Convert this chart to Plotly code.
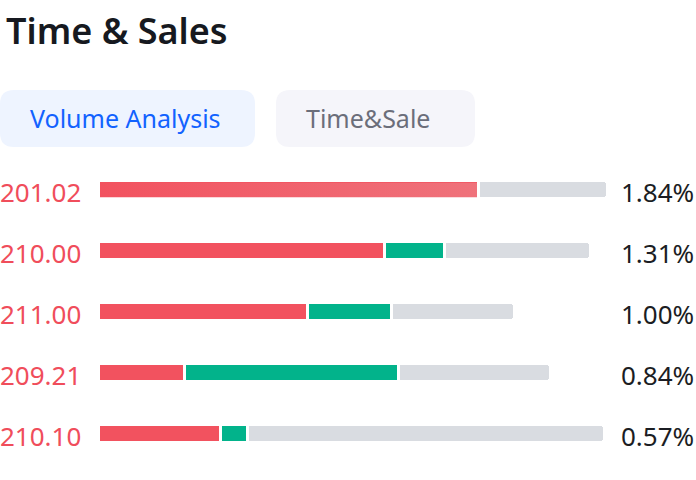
import plotly.graph_objects as go

# ---- data ----
prices = ["201.02", "210.00", "211.00", "209.21", "210.10"]
percents = ["1.84%", "1.31%", "1.00%", "0.84%", "0.57%"]
red_vol = [380, 286, 209, 86, 122]
green_vol = [0, 60, 84, 214, 27]
gray_vol = [129, 146, 123, 152, 357]
title_text = "Time & Sales"
tabs = ["Volume Analysis", "Time&Sale"]

# ---- style ----
W, H = 696, 480
ROW_PX = 61
FIRST_ROW_PX = 190
BAR_PX = 17.5
GAP = 3
RED = "#f2525f"
RED_GRAD = ["#f2525f", "#ef727b"]
GREEN = "#02b38b"
GRAY = "#d9dce1"
FONT = "Noto Sans"

span = H / ROW_PX
y_top = -FIRST_ROW_PX / ROW_PX
y_range = [y_top + span, y_top]
x0_px = 98.5
x_range = [-x0_px, W - x0_px]
bw = BAR_PX / ROW_PX
rows = list(range(len(prices)))

fig = go.Figure()
line = dict(color="white", width=GAP)
fig.add_trace(go.Bar(y=rows, x=red_vol, orientation="h", width=bw,
                     marker=dict(color=RED, line=line), hoverinfo="skip"))
fig.add_trace(go.Bar(y=rows, x=green_vol, orientation="h", width=bw,
                     marker=dict(color=GREEN, line=line), hoverinfo="skip"))
fig.add_trace(go.Bar(y=rows, x=gray_vol, orientation="h", width=bw,
                     marker=dict(color=GRAY, line=line), hoverinfo="skip"))

# gradient overlay for the top row's red segment
inset_x = GAP / 2
inset_y = (GAP / 2) / ROW_PX
hy = bw / 2 - inset_y
r0 = rows[0]
gx = [inset_x, red_vol[0] - inset_x, red_vol[0] - inset_x, inset_x, inset_x]
gy = [r0 - hy, r0 - hy, r0 + hy, r0 + hy, r0 - hy]
fig.add_trace(go.Scatter(x=gx, y=gy, mode="lines", fill="toself",
                         line=dict(width=0, color="rgba(0,0,0,0)"),
                         fillgradient=dict(type="horizontal",
                                           colorscale=[[0, RED_GRAD[0]], [1, RED_GRAD[1]]]),
                         hoverinfo="skip"))

annotations = []
for i, (p, pc) in enumerate(zip(prices, percents)):
    annotations.append(dict(x=0, xref="paper", xanchor="left", xshift=-2, y=rows[i], yref="y",
                            yanchor="middle", yshift=-2, text=p, showarrow=False,
                            font=dict(family=FONT, size=26, color="#f04d5b")))
    annotations.append(dict(x=1, xref="paper", xanchor="right", xshift=0, y=rows[i], yref="y",
                            yanchor="middle", yshift=-2, text=pc, showarrow=False,
                            font=dict(family=FONT, size=26, color="#1b1d23")))

# title
annotations.append(dict(x=4 / W, xref="paper", xanchor="left", y=1 - 30 / H, yref="paper",
                        yanchor="middle", text=title_text, showarrow=False,
                        font=dict(family=FONT, size=36, color="#161920", weight=600)))


def rrect(x0, y0, x1, y1, r):
    # pixel coords (y down) -> paper path
    def P(x, y):
        return f"{x / W:.5f},{1 - y / H:.5f}"
    return (f"M {P(x0 + r, y0)} L {P(x1 - r, y0)} Q {P(x1, y0)} {P(x1, y0 + r)} "
            f"L {P(x1, y1 - r)} Q {P(x1, y1)} {P(x1 - r, y1)} L {P(x0 + r, y1)} "
            f"Q {P(x0, y1)} {P(x0, y1 - r)} L {P(x0, y0 + r)} Q {P(x0, y0)} {P(x0 + r, y0)} Z")


tab_boxes = [(0, 90, 255, 147), (276, 90, 475, 147)]
tab_fill = ["#eef4ff", "#f5f5fa"]
tab_color = ["#1262ff", "#6b6e7a"]
shapes = []
for (bx0, by0, bx1, by1), fc, tc, t in zip(tab_boxes, tab_fill, tab_color, tabs):
    shapes.append(dict(type="path", xref="paper", yref="paper", path=rrect(bx0, by0, bx1, by1, 14),
                       fillcolor=fc, line=dict(width=0), layer="below"))
    annotations.append(dict(x=(bx0 + 28) / W, xref="paper", xanchor="left",
                            y=1 - ((by0 + by1) / 2) / H, yref="paper", yanchor="middle",
                            text=t, showarrow=False,
                            font=dict(family=FONT, size=25, color=tc)))

fig.update_layout(
    width=W, height=H, margin=dict(l=0, r=0, t=0, b=0),
    paper_bgcolor="white", plot_bgcolor="white",
    barmode="stack", bargap=0, barcornerradius=4, showlegend=False,
    xaxis=dict(range=x_range, visible=False, fixedrange=True, domain=[0, 1]),
    yaxis=dict(range=y_range, visible=False, fixedrange=True, domain=[0, 1]),
    annotations=annotations, shapes=shapes,
)
fig.write_html("out.html", config={"displayModeBar": False},
               post_script="document.body.style.margin='0';document.body.style.overflow='hidden';")
